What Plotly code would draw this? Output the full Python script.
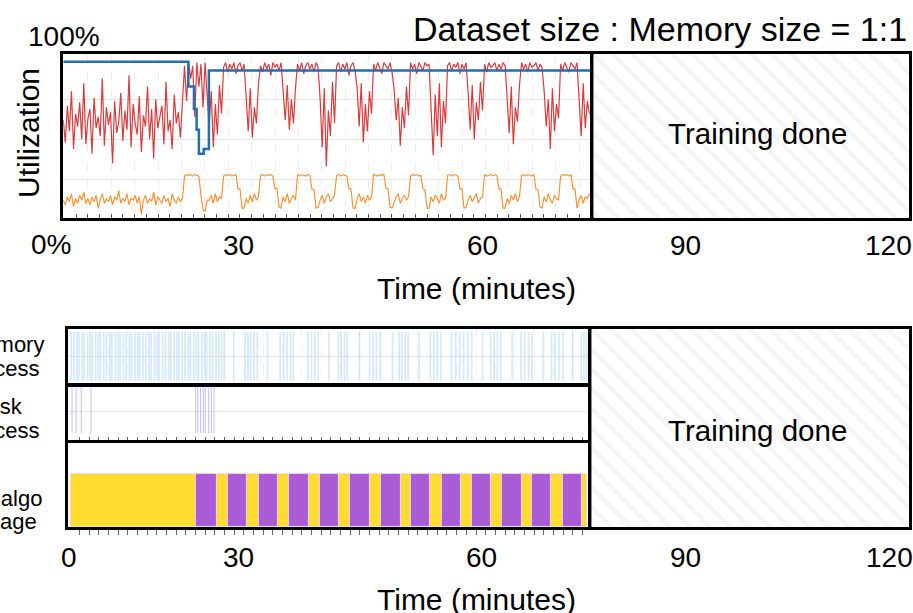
import plotly.graph_objects as go

W, H = 913, 613
FONT = "Liberation Sans, Arial, Helvetica, sans-serif"

# ---------------- data ----------------
SAMPLE_MIN = 0.3          # sampling interval of the utilization traces (minutes)
TRAIN_END = 77.0          # minutes at which training finished
AXIS_END_TOP = 123.3
AXIS_END_BOT = 124.0
UTIL_RANGE = [0.97, 103.2]

# red series (%)
red_util = [
    62, 48, 71, 55, 80, 44, 66, 58, 73, 50,
    85, 47, 63, 69, 41, 76, 57, 64, 52, 88,
    46, 70, 59, 67, 35, 74, 54, 61, 79, 49,
    68, 56, 90, 45, 72, 60, 53, 77, 42, 65,
    58, 83, 50, 69, 38, 75, 57, 64, 71, 47,
    86, 55, 62, 44, 78, 60, 67, 51, 74,
    96, 74, 98, 88, 96, 64, 98, 83, 97, 70, 98, 78,
    58, 80, 45, 72, 53, 84, 66,
    95, 98, 92, 97, 94, 98, 91, 96, 98, 93, 97,
    78, 55, 82, 51, 70, 60, 85,
    96, 92, 98, 94, 97, 90, 98, 95, 97, 93, 98,
    80, 62, 84, 56, 75, 60, 82,
    97, 93, 98, 91, 96, 98, 94, 97, 92, 98, 95,
    75, 45, 82, 33, 68, 52, 86, 60,
    96, 98, 92, 97, 94, 98, 90, 96, 98, 93,
    82, 58, 85, 48, 72, 55, 80, 66,
    97, 93, 98, 95, 91, 98, 96, 94, 98, 92,
    81, 62, 76, 46, 70, 57, 83, 65,
    98, 94, 97, 91, 98, 95, 93, 98, 96, 97,
    70, 40, 78, 52, 85, 45, 74, 60,
    96, 98, 93, 97, 95, 98, 91, 97, 94, 98,
    79, 56, 84, 50, 73, 62, 86, 68,
    97, 92, 98, 95, 96, 98, 93, 97, 94, 98, 96,
    77, 54, 83, 47, 70, 61, 84,
    98, 94, 97, 92, 98, 95, 96, 98, 93, 97, 95,
    80, 58, 75, 44, 82, 55, 72, 63,
    97, 93, 98, 95, 92, 98, 96, 94, 98,
    78, 52, 85, 57, 74, 66,
]

# orange series (%)
orange_util = [
    12, 9, 14, 11, 16, 8, 13, 10, 15, 12,
    17, 10, 13, 9, 14, 11, 15, 7, 12, 16,
    10, 13, 11, 15, 9, 14, 12, 18, 10, 13,
    11, 16, 9, 13, 12, 15, 10, 14, 3, 12,
    15, 10, 13, 11, 17, 9, 14, 12, 10, 15,
    11, 13, 8, 16, 12, 10, 14, 11, 13,
    27, 28, 27.5, 28, 27, 28, 27.5, 27, 15, 6, 5, 12,
    12, 15, 10, 16, 11, 14, 13,
    27, 28, 27.5, 28, 27, 27.5, 28, 19, 19, 7, 7,
    13, 10, 15, 11, 16, 12, 14,
    27.5, 28, 27, 28, 27.5, 28, 27, 19, 19.5, 7.5, 7,
    14, 11, 16, 10, 13, 15, 12,
    28, 27, 28, 27.5, 27, 28, 27.5, 19, 18.5, 7, 7.5,
    12, 15, 10, 14, 16, 11, 13, 15,
    27.5, 28, 27, 28, 27.5, 27, 19, 19, 7, 7,
    13, 16, 11, 14, 10, 15, 12, 14,
    28, 27.5, 27, 28, 27.5, 28, 19.5, 19, 7.5, 7,
    11, 14, 16, 10, 13, 15, 12, 14,
    27, 28, 27.5, 28, 27, 27.5, 19, 18.5, 7, 7,
    14, 11, 15, 13, 10, 16, 12, 13,
    27.5, 28, 27, 28, 27.5, 27, 19, 19, 7, 7.5,
    12, 15, 11, 14, 16, 10, 13, 14,
    28, 27, 27.5, 28, 27, 28, 27.5, 19, 19, 7, 7,
    13, 10, 15, 12, 16, 11, 14,
    27.5, 28, 27, 28, 27.5, 27, 28, 19, 18.5, 7.5, 7,
    14, 11, 16, 12, 10, 15, 13, 12,
    27, 28, 27.5, 28, 27, 28, 19, 19, 7,
    12, 15, 10, 14, 13, 16,
]

# blue step series (%)
blue_t = [0, 18.26, 19.08, 19.47, 19.8, 20.5, 21.26, TRAIN_END]
blue_util = [98.5, 83, 69, 56, 41, 44, 93, 93]

# event rasters (minutes)
mem_events = [
    0.5, 0.9, 1.3, 1.6, 2.1, 2.4, 2.9, 3.3, 3.6, 4.1, 4.5, 4.8, 5.3, 5.7,
    6.2, 6.5, 7.0, 7.4, 7.7, 8.2, 8.6, 9.1, 9.4, 9.9, 10.3, 10.6, 11.1,
    11.5, 12.0, 12.3, 12.8, 13.2, 13.5, 14.0, 14.4, 14.9, 15.2, 15.7, 16.1,
    16.4, 16.9, 17.3, 17.8, 18.1, 18.6, 19.0, 19.3, 19.8, 20.2, 20.5, 21.0,
    21.4, 21.9, 22.3, 22.7, 23.1,
    24.5, 26.2, 26.6, 27.0, 27.5, 28.0, 29.5,
    31.4, 31.9, 32.4, 32.9, 33.3, 35.5, 36.0, 36.5, 37.0, 38.6,
    40.0, 40.4, 40.9, 41.3, 43.1, 44.6, 45.1, 45.6, 46.2, 48.0,
    49.0, 49.4, 49.9, 50.3, 51.9, 53.6, 54.1, 54.6, 55.1,
    56.7, 57.3, 57.9, 58.5, 59.1, 59.7, 61.3, 62.5, 63.0, 63.5, 64.0, 65.7,
    67.0, 67.5, 68.1, 68.6, 70.3, 71.5, 72.0, 72.6, 73.2, 74.6,
    75.9, 76.3, 76.7,
]
disk_events = [0.6, 1.2, 1.96, 3.4, 18.9, 19.2, 19.6, 20.0, 20.3, 20.8, 21.2, 21.6]

# algorithm stage segments: boundaries (minutes) and stage per segment
stage_bounds = [0.4, 18.87, 21.96, 23.62, 26.47, 28.24, 31.12, 32.69, 35.59,
                37.25, 40.09, 41.71, 44.60, 46.22, 49.16, 50.74, 53.57, 55.24,
                58.13, 59.71, 62.59, 64.16, 67.06, 68.62, 71.47, 73.13, 75.97, 76.7]
stage_kind = ["load" if i % 2 == 0 else "train" for i in range(len(stage_bounds) - 1)]
stage_colors = {"load": "#FFDC2E", "train": "#AA5CD6"}

# tick labels (text) and where they sit on the time axes (minutes)
top_ticks_left = (["30", "60"], [25.6, 61.2])
top_ticks_right = (["90", "120"], [90.5, 120.3])
bot_ticks_left = (["0", "30", "60"], [0.2, 25.2, 61.2])
bot_ticks_right = (["90", "120"], [91.0, 121.1])

# minor tick spacing (minutes)
TOP_TICK0, TOP_DTICK = 1.89, 1.707
BOT_TICK0, BOT_DTICK = 1.7, 1.43

# ---------------- figure ----------------
LW = 2.5           # frame line width; plotly draws axis lines just outside the domain
HALF = LW / 2

def px_x(p):
    return p / W

def px_y(p):
    return 1 - p / H

def dom_x(a, b):   # a, b = frame line centres (px)
    return [px_x(a + HALF), px_x(b - HALF)]

def dom_y(top, bottom):
    return [px_y(bottom - HALF), px_y(top + HALF)]

t_top = [round(SAMPLE_MIN * i, 2) for i in range(len(red_util))]

fig = go.Figure()
fig.add_trace(go.Scatter(x=t_top, y=red_util, mode="lines",
                         line=dict(color="rgba(214,39,40,0.9)", width=1.2),
                         xaxis="x", yaxis="y", hoverinfo="skip"))
fig.add_trace(go.Scatter(x=t_top, y=orange_util, mode="lines",
                         line=dict(color="rgba(255,127,14,0.9)", width=1.1),
                         xaxis="x", yaxis="y", hoverinfo="skip"))
fig.add_trace(go.Scatter(x=blue_t, y=blue_util, mode="lines", line_shape="hv",
                         line=dict(color="#1f6fb2", width=2.5),
                         xaxis="x", yaxis="y", hoverinfo="skip"))

hatch = dict(shape="\\", fgcolor="#ebebeb", bgcolor="white", size=14, solidity=0.32)
fig.add_trace(go.Scatter(x=[TRAIN_END, AXIS_END_TOP, AXIS_END_TOP, TRAIN_END, TRAIN_END],
                         y=[UTIL_RANGE[0], UTIL_RANGE[0], UTIL_RANGE[1], UTIL_RANGE[1], UTIL_RANGE[0]],
                         fill="toself", mode="none",
                         fillcolor="white", fillpattern=hatch,
                         xaxis="x2", yaxis="y2", hoverinfo="skip"))

mx, my = [], []
for t in mem_events:
    mx += [t, t, None]
    my += [0, 1, None]
fig.add_trace(go.Scatter(x=mx, y=my, mode="lines",
                         line=dict(color="rgba(140,195,245,0.35)", width=1.8),
                         xaxis="x3", yaxis="y3", hoverinfo="skip"))
dx, dy = [], []
for t in disk_events:
    dx += [t, t, None]
    dy += [0, 1, None]
fig.add_trace(go.Scatter(x=dx, y=dy, mode="lines",
                         line=dict(color="rgba(140,140,235,0.55)", width=1),
                         xaxis="x4", yaxis="y4", hoverinfo="skip"))

mids = [(a + b) / 2 for a, b in zip(stage_bounds[:-1], stage_bounds[1:])]
widths = [b - a for a, b in zip(stage_bounds[:-1], stage_bounds[1:])]
fig.add_trace(go.Bar(x=mids, y=[1] * len(mids), width=widths,
                     marker=dict(color=[stage_colors[k] for k in stage_kind],
                                 line=dict(color="rgba(240,215,245,0.9)", width=1)),
                     xaxis="x5", yaxis="y5", hoverinfo="skip"))

fig.add_trace(go.Scatter(x=[TRAIN_END, AXIS_END_BOT, AXIS_END_BOT, TRAIN_END, TRAIN_END],
                         y=[0, 0, 1, 1, 0], fill="toself", mode="none",
                         fillcolor="white", fillpattern=hatch,
                         xaxis="x6", yaxis="y6", hoverinfo="skip"))

frame = dict(showline=True, mirror=True, linecolor="black", linewidth=LW,
             zeroline=False, showticklabels=False)

top_ticks = [TOP_TICK0 + TOP_DTICK * k for k in range(int((TRAIN_END - TOP_TICK0) / TOP_DTICK) + 1)]
top_grid = top_ticks[1::2]
bot_ticks = [BOT_TICK0 + BOT_DTICK * k for k in range(int((TRAIN_END - BOT_TICK0) / BOT_DTICK) + 1)]
bot_grid = bot_ticks[1::2]

top_y_dom = dom_y(53, 219)
left_top = dom_x(62, 592)
right_top = dom_x(592, 910)
left_bot = dom_x(66.7, 590)
right_bot = dom_x(590, 910)

fig.update_layout(
    width=W, height=H, margin=dict(l=0, r=0, t=0, b=0),
    paper_bgcolor="white", plot_bgcolor="white", showlegend=False, bargap=0,
    font=dict(family=FONT, color="black"),
    xaxis=dict(domain=left_top, range=[0, TRAIN_END], anchor="y", **frame,
               tickmode="array", tickvals=top_grid, ticks="inside", ticklen=4,
               tickcolor="#555", tickwidth=1, showgrid=True, gridcolor="#ededed",
               griddash="dash", gridwidth=1,
               minor=dict(tickmode="array", tickvals=top_ticks, ticks="inside",
                          ticklen=4, tickcolor="#555", showgrid=False)),
    yaxis=dict(domain=top_y_dom, range=UTIL_RANGE, anchor="x", **frame,
               tickvals=[25, 50, 75], ticks="", showgrid=True, gridcolor="#e4e4e4"),
    xaxis2=dict(domain=right_top, range=[TRAIN_END, AXIS_END_TOP], anchor="y2",
                **frame, ticks="", showgrid=False),
    yaxis2=dict(domain=top_y_dom, range=UTIL_RANGE, anchor="x2", **frame,
                ticks="", showgrid=False),
    xaxis3=dict(domain=left_bot, range=[0, TRAIN_END], anchor="y3",
                **frame, ticks="", tickmode="array", tickvals=bot_grid,
                showgrid=True, gridcolor="#f0f0f0", griddash="dash"),
    yaxis3=dict(domain=dom_y(327.5, 385), range=[-0.06, 1.06], anchor="x3",
                **frame, tickvals=[0.5], ticks="", showgrid=True, gridcolor="#e6e6e6"),
    xaxis4=dict(domain=left_bot, range=[0, TRAIN_END], anchor="y4",
                **frame, tickmode="array", tickvals=bot_ticks, ticks="inside",
                ticklen=4, tickcolor="#666", tickwidth=1,
                showgrid=False),
    yaxis4=dict(domain=dom_y(385, 441.7), range=[-0.16, 1.0], anchor="x4",
                **frame, tickvals=[0.45], ticks="", showgrid=True, gridcolor="#e6e6e6"),
    xaxis5=dict(domain=left_bot, range=[0, TRAIN_END], anchor="y5", **frame,
                tickmode="array", tickvals=bot_ticks, ticks="outside", ticklen=5,
                tickcolor="#666", tickwidth=1, showgrid=False),
    yaxis5=dict(domain=dom_y(441.7, 528.3), range=[0, 1.58], anchor="x5",
                **frame, ticks="", showgrid=False),
    xaxis6=dict(domain=right_bot, range=[TRAIN_END, AXIS_END_BOT], anchor="y6",
                **frame, ticks="", showgrid=False),
    yaxis6=dict(domain=dom_y(327.5, 528.3), range=[0, 1], anchor="x6",
                **frame, ticks="", showgrid=False),
)

ann = []
def text(x, y, s, size, xref="paper", yref="paper", xanchor="center", **kw):
    ann.append(dict(x=x, y=y, xref=xref, yref=yref, text=s, showarrow=False,
                    xanchor=xanchor, yanchor="middle",
                    font=dict(family=FONT, size=size, color="black"), **kw))

TICK_FS = 28
for labels, pos, ax, ypx in [(top_ticks_left[0], top_ticks_left[1], "x", 245),
                             (top_ticks_right[0], top_ticks_right[1], "x2", 245),
                             (bot_ticks_left[0], bot_ticks_left[1], "x5", 557),
                             (bot_ticks_right[0], bot_ticks_right[1], "x6", 557)]:
    for s, p in zip(labels, pos):
        text(p, px_y(ypx), s, TICK_FS, xref=ax)

text(px_x(909), px_y(29), "Dataset size : Memory size = 1:1", 34, xanchor="right")
text(px_x(64), px_y(37), "100%", 28)
text(px_x(51), px_y(244), "0%", 28)
text(px_x(29), px_y(133), "Utilization", 30, textangle=-90)
text(px_x(476), px_y(288), "Time (minutes)", 30)
text(px_x(476), px_y(599), "Time (minutes)", 30)
text(px_x(757), px_y(134), "Training done", 29.5)
text(px_x(757), px_y(430), "Training done", 29.5)

LAB_FS = 22
text(px_x(46), px_y(344), "Memory", LAB_FS, xanchor="right")
text(px_x(41), px_y(368), "access", LAB_FS, xanchor="right")
text(px_x(25), px_y(406), "Disk", LAB_FS, xanchor="right")
text(px_x(41), px_y(430), "access", LAB_FS, xanchor="right")
text(px_x(44), px_y(498), "ML algo", LAB_FS, xanchor="right")
text(px_x(39), px_y(521), "stage", LAB_FS, xanchor="right")

fig.update_layout(annotations=ann)
fig.write_html("out.html", config={"displayModeBar": False},
               post_script="document.body.style.margin='0px';")
